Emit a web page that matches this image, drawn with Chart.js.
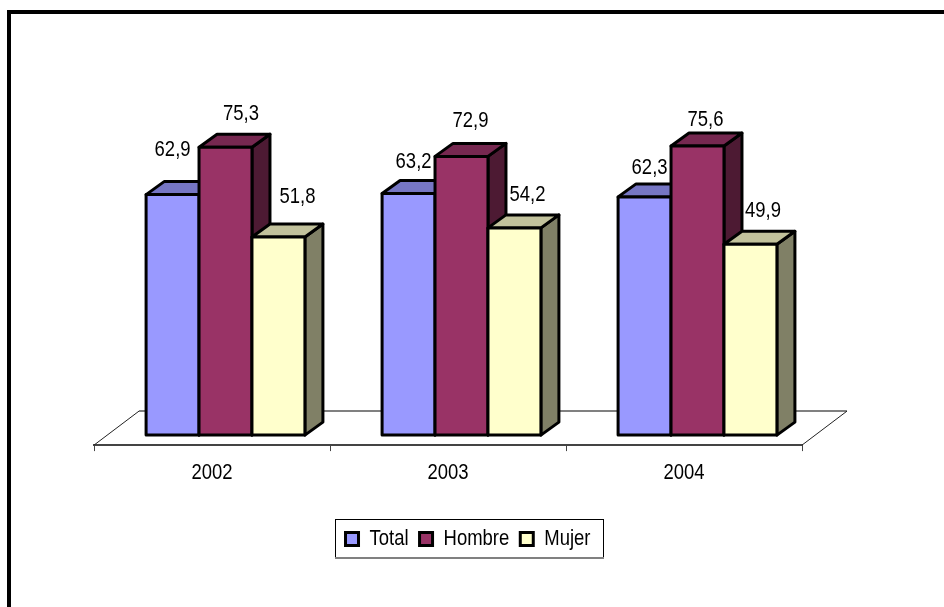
<!DOCTYPE html>
<html>
<head>
<meta charset="utf-8">
<title>Total, Hombre, Mujer</title>
<script src="https://cdn.jsdelivr.net/npm/chart.js@4"></script>
<style>
  html, body { margin: 0; padding: 0; background: #fff; }
  canvas { display: block; }
</style>
</head>
<body>
<canvas id="chart" width="944" height="607"></canvas>
<script>
const years = ['2002', '2003', '2004'];
const total = [62.9, 63.2, 62.3];
const hombre = [75.3, 72.9, 75.6];
const mujer = [51.8, 54.2, 49.9];

const FONT = '"Liberation Sans", Arial, sans-serif';
const FONT_SIZE = 22;
const NARROW = 0.84;   // the original text is squeezed sideways

// hand placed data labels, offset from the middle of the bar's top edge
const labelOffsets = [
  [[0, -45], [5, -32], [5, -29]],
  [[15.5, -33], [9, -35], [8, -26]],
  [[19, -40], [13, -33], [12.5, -33]]
];

const faceColors = [
  { top: '#7676C4', side: '#4D4D80' },
  { top: '#762850', side: '#4D1A33' },
  { top: '#C2C29C', side: '#808066' }
];

const shift = { x: 13.5, y: -10 };   // bars stand back from the axis
const depth = { x: 18, y: -13 };     // depth of one bar
const floor = { x: 45, y: -34 };     // depth of the floor

const canvas = document.getElementById('chart');
const context = canvas.getContext('2d');

// no narrow font installed, so squeeze all text on this canvas
const rawFillText = context.fillText.bind(context);
const rawMeasureText = context.measureText.bind(context);
context.fillText = function (text, x, y) {
  context.save();
  context.translate(x, y);
  context.scale(NARROW, 1);
  rawFillText(text, 0, 0);
  context.restore();
};
context.measureText = function (text) {
  return { width: rawMeasureText(text).width * NARROW };
};

function poly(ctx, pts, fill) {
  ctx.beginPath();
  pts.forEach((p, i) => i ? ctx.lineTo(p[0], p[1]) : ctx.moveTo(p[0], p[1]));
  ctx.closePath();
  ctx.fillStyle = fill;
  ctx.fill();
  ctx.stroke();
}

const fake3d = {
  id: 'fake3d',
  afterLayout(chart) {
    // legend sits right of centre and has its own box
    const legend = chart.legend;
    legend.left += 20;
    legend.right += 20;
    legend.top = 517;
    legend.bottom = 560;
  },
  beforeDatasetsDraw(chart) {
    const ctx = chart.ctx;
    const { left, right, bottom } = chart.chartArea;
    ctx.save();
    ctx.strokeStyle = '#808080';
    ctx.lineWidth = 2;
    ctx.beginPath();
    ctx.moveTo(left + floor.x, bottom + floor.y);
    ctx.lineTo(right + floor.x, bottom + floor.y);
    ctx.stroke();
    ctx.strokeStyle = '#222';
    ctx.lineWidth = 1;
    ctx.beginPath();
    ctx.moveTo(left, bottom);
    ctx.lineTo(left + floor.x, bottom + floor.y);
    ctx.moveTo(right, bottom);
    ctx.lineTo(right + floor.x, bottom + floor.y);
    ctx.stroke();
    ctx.restore();
    ctx.save();
    ctx.translate(shift.x, shift.y);
  },
  afterDatasetsDraw(chart) {
    const ctx = chart.ctx;
    ctx.strokeStyle = '#000';
    ctx.lineWidth = 3;
    ctx.lineJoin = 'round';
    // painted left to right, each bar hides the side of the one before
    chart.data.datasets.forEach((ds, d) => {
      chart.getDatasetMeta(d).data.forEach(bar => {
        const x0 = bar.x - bar.width / 2;
        const x1 = bar.x + bar.width / 2;
        const y0 = bar.y;
        const y1 = bar.base;
        poly(ctx, [[x1, y0], [x1 + depth.x, y0 + depth.y], [x1 + depth.x, y1 + depth.y], [x1, y1]], faceColors[d].side);
        poly(ctx, [[x0, y0], [x0 + depth.x, y0 + depth.y], [x1 + depth.x, y0 + depth.y], [x1, y0]], faceColors[d].top);
        poly(ctx, [[x0, y0], [x1, y0], [x1, y1], [x0, y1]], ds.backgroundColor);
      });
    });
    ctx.fillStyle = '#000';
    ctx.font = FONT_SIZE + 'px ' + FONT;
    ctx.textAlign = 'center';
    ctx.textBaseline = 'middle';
    chart.data.datasets.forEach((ds, d) => {
      chart.getDatasetMeta(d).data.forEach((bar, i) => {
        const off = labelOffsets[d][i];
        ctx.fillText(ds.data[i].toFixed(1).replace('.', ','), bar.x + off[0], bar.y + off[1]);
      });
    });
    ctx.restore();
  },
  afterDraw(chart) {
    const ctx = chart.ctx;
    ctx.save();
    // outer frame, only top and left show
    ctx.fillStyle = '#000';
    ctx.fillRect(7, 10, 937, 4);
    ctx.fillRect(7, 10, 4, 597);
    // legend box
    ctx.strokeStyle = '#000';
    ctx.lineWidth = 1;
    ctx.strokeRect(335.5, 519.5, 268, 38);
    ctx.fillStyle = '#808080';
    ctx.fillRect(335, 557, 269, 2);
    ctx.restore();
  }
};

new Chart(canvas, {
  type: 'bar',
  data: {
    labels: years,
    datasets: [
      { label: 'Total', data: total, backgroundColor: '#9999FF', borderColor: '#000', borderWidth: 3 },
      { label: 'Hombre', data: hombre, backgroundColor: '#993366', borderColor: '#000', borderWidth: 3 },
      { label: 'Mujer', data: mujer, backgroundColor: '#FFFFCC', borderColor: '#000', borderWidth: 3 }
    ]
  },
  options: {
    responsive: false,
    animation: false,
    categoryPercentage: 0.673,
    barPercentage: 1,
    layout: { padding: { left: 94, right: 142, top: 101, bottom: 68.5 } },
    scales: {
      x: {
        grid: { drawOnChartArea: false, drawTicks: true, tickLength: 6, color: '#444' },
        border: { color: '#444', width: 2 },
        ticks: { color: '#000', font: { family: FONT, size: FONT_SIZE }, padding: 9, maxRotation: 0 }
      },
      y: { display: false, min: 0, max: 90 }
    },
    plugins: {
      legend: {
        position: 'bottom',
        labels: { color: '#000', font: { family: FONT, size: FONT_SIZE }, boxWidth: 13, boxHeight: 13, padding: 11 }
      },
      tooltip: { enabled: false }
    }
  },
  plugins: [fake3d]
});
</script>
</body>
</html>
